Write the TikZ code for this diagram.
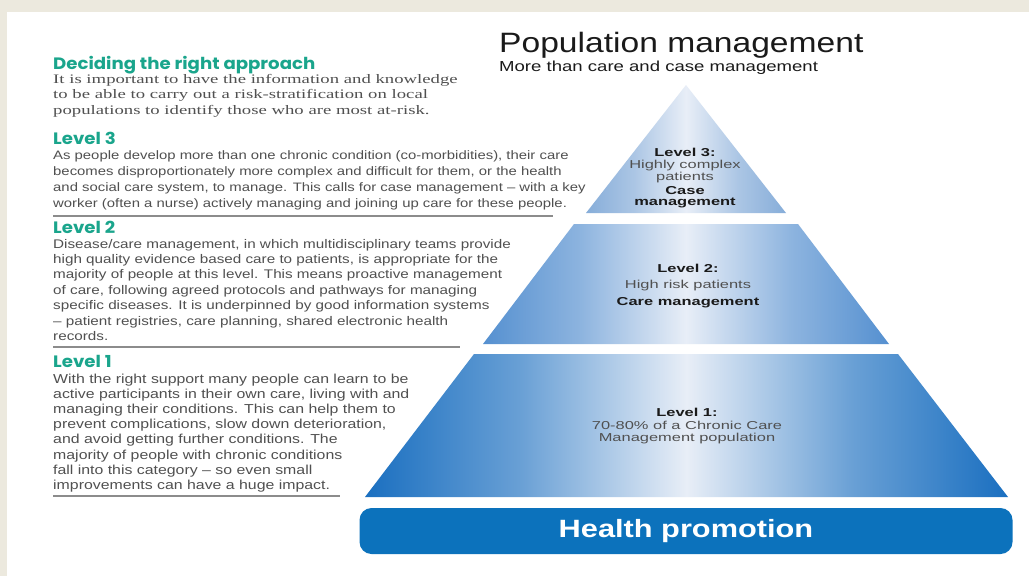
\documentclass[tikz,border=0pt]{standalone}
\usepackage{fontspec}
\setmainfont{Liberation Sans}
\newfontfamily\bodyf{Liberation Sans}[FakeStretch=1.22]
\newfontfamily\titlef{Liberation Sans}[FakeStretch=1.2]
\newfontfamily\subf{Liberation Sans}[FakeStretch=1.28]
\newfontfamily\barf{Liberation Sans}[FakeStretch=1.23]
\newfontfamily\pyrf{Liberation Sans}[FakeStretch=1.43]
\newfontfamily\serf{Liberation Serif}[FakeStretch=1.44]
\newfontfamily\headf{Poppins}[FakeStretch=1.1]
\definecolor{frame}{HTML}{ECE9DE}
\definecolor{teal}{HTML}{1AA58C}
\definecolor{bodygrey}{HTML}{505050}
\definecolor{rulegrey}{HTML}{8C8C8C}
\definecolor{blueA}{HTML}{1A6FC0}
\definecolor{blueB}{HTML}{5590D0}
\definecolor{blueC}{HTML}{86ADD9}
\definecolor{pale}{HTML}{E8EEF7}
\definecolor{barblue}{HTML}{0C72BC}
\definecolor{ink}{HTML}{1A1A1A}
\pgfdeclarehorizontalshading{tierone}{100bp}{color(0bp)=(blueA); color(25bp)=(blueA); color(37bp)=(blueA!62!pale); color(50bp)=(pale); color(63bp)=(blueA!62!pale); color(75bp)=(blueA); color(100bp)=(blueA)}
\pgfdeclarehorizontalshading{tiertwo}{100bp}{color(0bp)=(blueB); color(25bp)=(blueB); color(37bp)=(blueB!62!pale); color(50bp)=(pale); color(63bp)=(blueB!62!pale); color(75bp)=(blueB); color(100bp)=(blueB)}
\pgfdeclarehorizontalshading{tierthree}{100bp}{color(0bp)=(blueC); color(25bp)=(blueC); color(37bp)=(blueC!62!pale); color(50bp)=(pale); color(63bp)=(blueC!62!pale); color(75bp)=(blueC); color(100bp)=(blueC)}
\begin{document}
\begin{tikzpicture}[x=1pt,y=-1pt,
  heading/.style={anchor=base west,inner sep=0pt,text=teal,font=\headf\bfseries\fontsize{16.5}{19}\selectfont},
  para/.style={anchor=base west,inner sep=0pt,align=left,text=bodygrey,font=\bodyf\fontsize{12.5}{#1}\selectfont},
  spara/.style={anchor=base west,inner sep=0pt,align=left,text=bodygrey,font=\serf\fontsize{13}{15.7}\selectfont},
  rule/.style={rulegrey,line width=2pt},
  ptext/.style={anchor=base,inner sep=0pt,align=center,text=bodygrey,font=\pyrf\fontsize{11.5}{12}\selectfont},
  pbold/.style={anchor=base,inner sep=0pt,align=center,text=ink,font=\pyrf\bfseries\fontsize{11.5}{12}\selectfont},
  bar/.style={fill=barblue,rounded corners=12pt,minimum width=653pt,minimum height=46pt,inner sep=0pt,text=white,font=\barf\bfseries\fontsize{25}{28}\selectfont}
]
\useasboundingbox (0,0) rectangle (1029,576);
\fill[white] (0,0) rectangle (1029,576);
\fill[frame] (0,0) rectangle (1029,12);
\fill[frame] (0,0) rectangle (7,576);

% titles
\node[anchor=base west,inner sep=0pt,text=ink,font=\titlef\fontsize{28}{32}\selectfont] (title) at (499,52) {Population management};
\node[anchor=base west,inner sep=0pt,text=ink,font=\subf\fontsize{14.5}{17}\selectfont] (subtitle) at (499,71) {More than care and case management};

% left column (nodes anchored at the baseline of their last line)
\node[heading] (h0) at (53,69) {Deciding the right approach};
\node[spara] (p0) at (53,114.4) {It is important to have the information and knowledge\\to be able to carry out a risk-stratification on local\\populations to identify those who are most at-risk.};

\node[heading] (h3) at (53,144) {Level 3};
\node[para=16,font=\bodyf\fontsize{12.2}{16}\selectfont] (p3) at (53,207) {As people develop more than one chronic condition (co-morbidities), their care\\becomes disproportionately more complex and difficult for them, or the health\\and social care system, to manage. This calls for case management – with a key\\worker (often a nurse) actively managing and joining up care for these people.};
\draw[rule] (53,216) -- (553,216);

\node[heading] (h2) at (53,233) {Level 2};
\node[para=15.4] (p2) at (53,340.4) {Disease/care management, in which multidisciplinary teams provide\\high quality evidence based care to patients, is appropriate for the\\majority of people at this level. This means proactive management\\of care, following agreed protocols and pathways for managing\\specific diseases. It is underpinned by good information systems\\– patient registries, care planning, shared electronic health\\records.};
\draw[rule] (53,347) -- (460,347);

\node[heading] (h1) at (53,367) {Level 1};
\node[para=15.2,font=\bodyf\fontsize{13}{15.2}\selectfont] (p1) at (53,489.4) {With the right support many people can learn to be\\active participants in their own care, living with and\\managing their conditions. This can help them to\\prevent complications, slow down deterioration,\\and avoid getting further conditions. The\\majority of people with chronic conditions\\fall into this category – so even small\\improvements can have a huge impact.};
\draw[rule] (53,496) -- (340,496);

% pyramid
\shade[shading=tierthree] (686,85) -- (786,213) -- (586,213) -- cycle;
\shade[shading=tiertwo] (574,224) -- (798,224) -- (889,344) -- (483,344) -- cycle;
\shade[shading=tierone] (474,354) -- (898,354) -- (1008,497) -- (365,497) -- cycle;

\node[pbold] (l3a) at (685,156) {Level 3:};
\node[ptext] (l3b) at (685,168) {Highly complex};
\node[ptext] (l3c) at (685,180) {patients};
\node[pbold] (l3d) at (685,194) {Case};
\node[pbold] (l3e) at (685,205) {management};

\node[pbold] (l2a) at (688,272) {Level 2:};
\node[ptext] (l2b) at (688,288) {High risk patients};
\node[pbold] (l2c) at (688,305) {Care management};

\node[pbold] (l1a) at (687,416) {Level 1:};
\node[ptext] (l1b) at (687,429) {70-80\% of a Chronic Care};
\node[ptext] (l1c) at (687,441) {Management population};

\node[bar] (hp) at (686,531) {Health promotion};
\end{tikzpicture}
\end{document}
